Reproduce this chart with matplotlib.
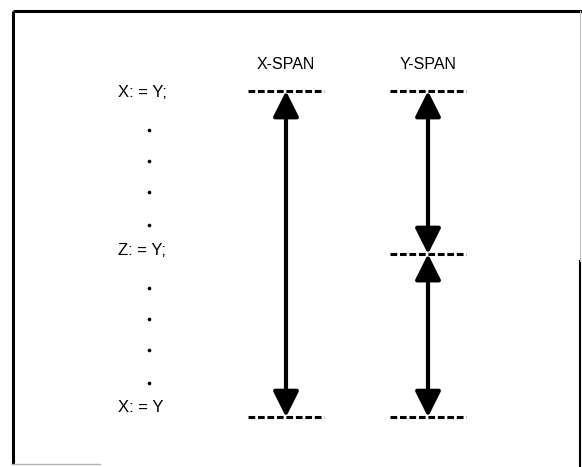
import matplotlib.pyplot as plt
from matplotlib.patches import FancyArrowPatch

# program listing (line numbers) and the spans drawn beside it
statements = ["X: = Y;", "Z: = Y;", "X: = Y"]
statement_lines = [0, 5, 10]
dot_lines = [1.2, 2.15, 3.1, 4.1, 6.05, 7.0, 7.95, 8.95]
span_names = ["X-SPAN", "Y-SPAN"]
span_segments = [[(0, 10)], [(0, 5), (5, 10)]]
span_marks = [[0, 10], [0, 5, 10]]

plt.rcParams['font.family'] = ['Liberation Sans Narrow', 'Liberation Sans', 'DejaVu Sans']

fig = plt.figure(figsize=(5.82, 4.67), dpi=100)
ax = fig.add_axes([0, 0, 1, 1])
ax.set_xlim(0, 582)
ax.set_ylim(11.53, -2.79)  # line units, top to bottom
ax.axis('off')

# frame
ax.plot([13, 13], [-2.45, 11.45], color='black', lw=2.2, solid_capstyle='butt')
ax.plot([13, 582], [-2.45, -2.45], color='black', lw=2.2, solid_capstyle='butt')
ax.plot([580, 580], [5.2, 11.53], color='black', lw=1.5)
ax.plot([580, 580], [-2.45, 5.2], color='0.75', lw=0.8)
ax.plot([13, 100], [11.45, 11.45], color='0.7', lw=1.0)

# program text (last line sits a little above its marker line)
text_shift = [0.05, -0.12, -0.3]
for s, ln, dy in zip(statements, statement_lines, text_shift):
    ax.text(118, ln + dy, s, fontsize=12, ha='left', va='center')
for ln in dot_lines:
    ax.plot(149, ln, 'o', color='black', ms=1.6)

cols = [286, 428]
half = 38
for name, x, segs, marks in zip(span_names, cols, span_segments, span_marks):
    ax.text(x, -0.8, name, fontsize=11.5, ha='center', va='center')
    for m in marks:
        ax.plot([x - half, x + half], [m, m], color='black', lw=2.2,
                linestyle=(0, (2.2, 0.9)), solid_capstyle='butt')
    for a, b in segs:
        arr = FancyArrowPatch((x, a), (x, b), arrowstyle='<|-|>,head_length=6,head_width=3',
                              mutation_scale=2.6, color='black', lw=3,
                              shrinkA=0, shrinkB=0)
        ax.add_patch(arr)

fig.savefig('out.png', dpi=100)
